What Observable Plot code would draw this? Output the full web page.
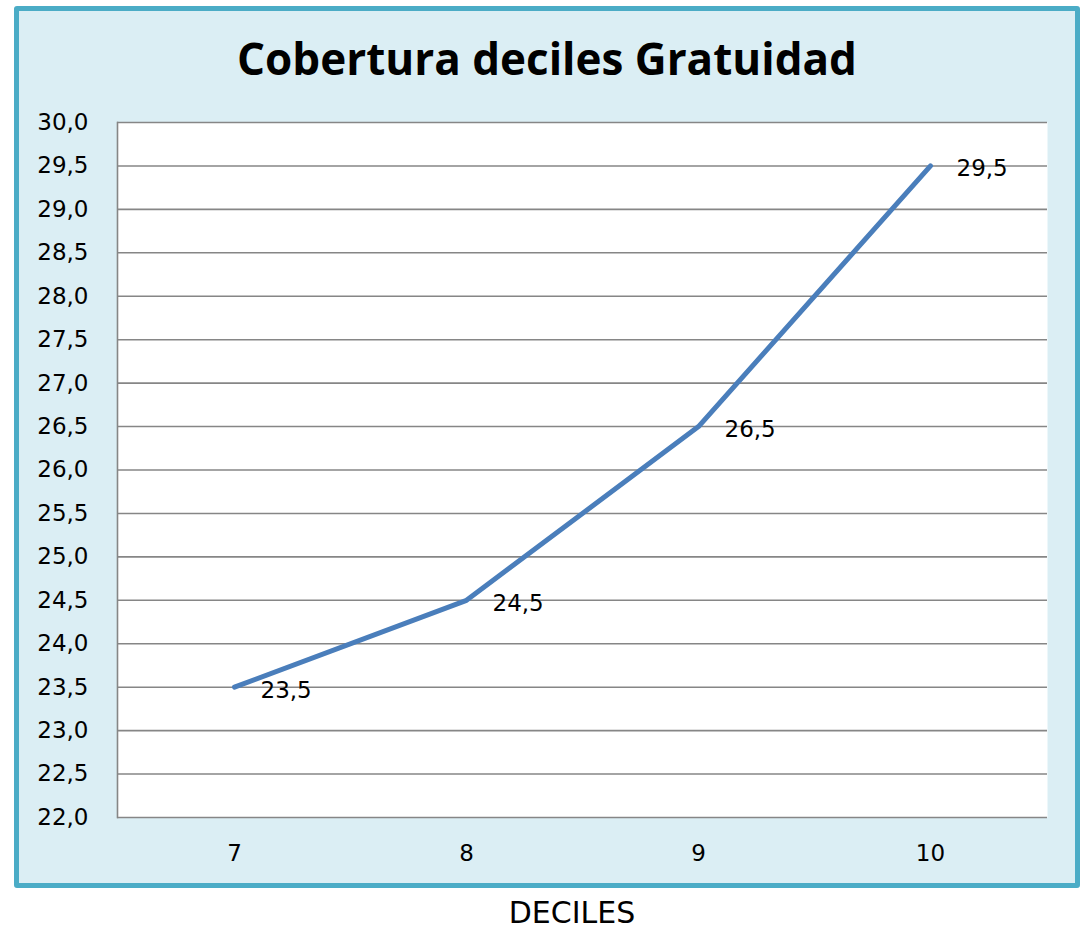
<!DOCTYPE html>
<html>
<head>
<meta charset="utf-8">
<script src="https://cdn.jsdelivr.net/npm/d3@7"></script>
<script src="https://cdn.jsdelivr.net/npm/@observablehq/plot@0.6"></script>
<style>
  html, body { margin: 0; padding: 0; background: #ffffff; }
  #page { position: relative; width: 1082px; height: 931px; overflow: hidden; }
  #box { position: absolute; left: 14px; top: 6px; width: 1056px; height: 872px;
         border: 5px solid #4bacc6; border-radius: 3px; background: #dbeef4; }
  #title { position: absolute; left: 14px; width: 1066px; top: 28px; text-align: center;
           font-family: "Open Sans", sans-serif; font-weight: bold; font-size: 44px; color: #000; }
  #xlabel { position: absolute; left: 0; width: 1082px; top: 895px; text-align: center;
            padding-left: 62px; box-sizing: border-box;
            font-family: "DejaVu Sans", sans-serif; font-size: 30px; color: #000; }
  #chart { position: absolute; left: 0; top: 0; }
</style>
</head>
<body>
<div id="page">
  <div id="box"></div>
  <div id="title">Cobertura deciles Gratuidad</div>
  <div id="chart"></div>
  <div id="xlabel">DECILES</div>
</div>
<script>
const deciles = ["7", "8", "9", "10"];
const cobertura = [23.5, 24.5, 26.5, 29.5];
const yTicks = [22, 22.5, 23, 23.5, 24, 24.5, 25, 25.5, 26, 26.5, 27, 27.5, 28, 28.5, 29, 29.5, 30];

const data = deciles.map((d, i) => ({decil: d, valor: cobertura[i]}));
const fmt = v => v.toFixed(1).replace(".", ",");

const chart = Plot.plot({
  width: 1082,
  height: 931,
  marginLeft: 117,
  marginRight: 35,
  marginTop: 122,
  marginBottom: 114,
  style: {background: "transparent", fontFamily: "DejaVu Sans, sans-serif", fontSize: "23px", color: "#000"},
  x: {type: "point", domain: deciles, padding: 0.5, label: null},
  y: {domain: [22, 30], label: null},
  marks: [
    Plot.frame({fill: "white", stroke: "none"}),
    Plot.ruleY(yTicks, {stroke: "#868686", strokeWidth: 1.6, strokeOpacity: 1}),
    Plot.frame({anchor: "left", stroke: "#868686", strokeWidth: 1.6}),
    Plot.axisY({ticks: yTicks, tickFormat: fmt, tickSize: 0, tickPadding: 29, fontSize: 23, fill: "#000"}),
    Plot.axisX({tickSize: 0, tickPadding: 27, fontSize: 23, fill: "#000"}),
    Plot.line(data, {x: "decil", y: "valor", stroke: "#4a7ebb", strokeWidth: 5, strokeLinecap: "round"}),
    Plot.text(data, {x: "decil", y: "valor", text: d => fmt(d.valor), textAnchor: "start", dx: 26, dy: 3, fontSize: 23, fill: "#000"})
  ]
});
document.getElementById("chart").appendChild(chart);
</script>
</body>
</html>
